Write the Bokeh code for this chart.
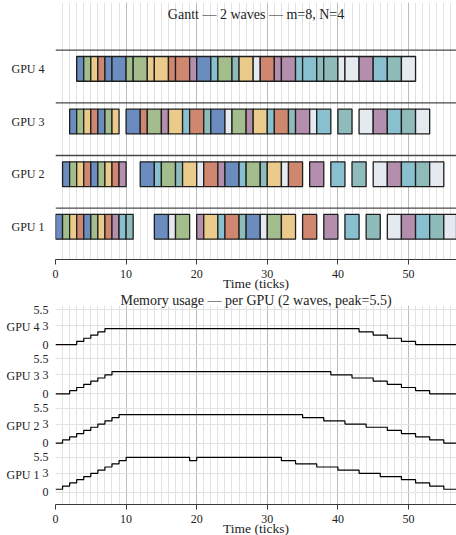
from bokeh.plotting import figure
from bokeh.layouts import column
from bokeh.models import (FixedTicker, SingleIntervalTicker, Label, Span,
                          ColumnDataSource, Range1d, LinearAxis)
from bokeh.embed import file_html
from bokeh.resources import INLINE

FONT = "Liberation Serif"

# ---------------- data ----------------
mb_colors = ["#6a8cbf", "#a3be8c", "#ebcb8b", "#d08770",
             "#b48ead", "#88c0d0", "#8fbcbb", "#e5e9f0"]
gpu_names = ["GPU 1", "GPU 2", "GPU 3", "GPU 4"]

# Gantt blocks: start tick, duration (ticks), micro-batch index
gpu1_start = [0, 1, 2, 3, 4, 5, 6, 7, 8, 9, 10, 14, 16, 17, 20, 21, 23, 24, 26, 27, 29, 30,
              32, 35, 38, 41, 44, 47, 49, 51, 53, 55]
gpu1_dur = [1, 1, 1, 1, 1, 1, 1, 1, 1, 1, 1, 2, 1, 2, 1, 2, 1, 2, 1, 2, 1, 2,
            2, 2, 2, 2, 2, 2, 2, 2, 2, 2]
gpu1_mb = [0, 1, 2, 3, 0, 1, 2, 3, 4, 5, 6, 0, 7, 1, 4, 2, 5, 3, 6, 0, 7, 1,
           2, 3, 4, 5, 6, 7, 4, 5, 6, 7]

gpu2_start = [1, 2, 3, 4, 5, 6, 7, 8, 9, 12, 14, 15, 17, 18, 20, 21, 23, 24, 26, 27, 29, 30,
              32, 33, 36, 39, 42, 45, 47, 49, 51, 53]
gpu2_dur = [1, 1, 1, 1, 1, 1, 1, 1, 1, 2, 1, 2, 1, 2, 1, 2, 1, 2, 1, 2, 1, 2,
            1, 2, 2, 2, 2, 2, 2, 2, 2, 2]
gpu2_mb = [0, 1, 2, 3, 0, 1, 2, 3, 4, 0, 5, 1, 6, 2, 7, 3, 4, 0, 5, 1, 6, 2,
           7, 3, 4, 5, 6, 7, 4, 5, 6, 7]

gpu3_start = [2, 3, 4, 5, 6, 7, 8, 10, 12, 13, 15, 16, 18, 19, 21, 22, 24, 25, 27, 28, 30, 31,
              33, 34, 36, 37, 40, 43, 45, 47, 49, 51]
gpu3_dur = [1, 1, 1, 1, 1, 1, 1, 2, 1, 2, 1, 2, 1, 2, 1, 2, 1, 2, 1, 2, 1, 2,
            1, 2, 1, 2, 2, 2, 2, 2, 2, 2]
gpu3_mb = [0, 1, 2, 3, 0, 1, 2, 0, 3, 1, 4, 2, 5, 3, 6, 0, 7, 1, 4, 2, 5, 3,
           6, 4, 7, 5, 6, 7, 4, 5, 6, 7]

gpu4_start = [3, 4, 5, 6, 7, 8, 10, 11, 13, 14, 16, 17, 19, 20, 22, 23, 25, 26, 28, 29, 31, 32,
              34, 35, 37, 38, 40, 41, 43, 45, 47, 49]
gpu4_dur = [1, 1, 1, 1, 1, 2, 1, 2, 1, 2, 1, 2, 1, 2, 1, 2, 1, 2, 1, 2, 1, 2,
            1, 2, 1, 2, 1, 2, 2, 2, 2, 2]
gpu4_mb = [0, 1, 2, 3, 0, 0, 1, 1, 2, 2, 3, 3, 4, 0, 5, 1, 6, 2, 7, 3, 4, 4,
           5, 5, 6, 6, 7, 7, 4, 5, 6, 7]

# Memory usage step functions (time of change, value after change)
mem1_t = [0, 1, 2, 3, 4, 5, 6, 7, 8, 9, 10, 19, 20, 32, 34, 37, 40, 43, 46, 49, 51, 53, 55, 57]
mem1_v = [0.5, 1, 1.5, 2, 2.5, 3, 3.5, 4, 4.5, 5, 5.5, 5, 5.5, 5, 4.5, 4, 3.5, 3, 2.5, 2, 1.5, 1, 0.5, 0]
mem2_t = [0, 1, 2, 3, 4, 5, 6, 7, 8, 9, 35, 38, 41, 44, 47, 49, 51, 53, 55, 57]
mem2_v = [0, 0.5, 1, 1.5, 2, 2.5, 3, 3.5, 4, 4.5, 4, 3.5, 3, 2.5, 2, 1.5, 1, 0.5, 0, 0]
mem3_t = [0, 2, 3, 4, 5, 6, 7, 8, 39, 42, 45, 47, 49, 51, 53, 57]
mem3_v = [0, 0.5, 1, 1.5, 2, 2.5, 3, 3.5, 3, 2.5, 2, 1.5, 1, 0.5, 0, 0]
mem4_t = [0, 3, 4, 5, 6, 7, 43, 45, 47, 49, 51, 57]
mem4_v = [0, 0.5, 1, 1.5, 2, 2.5, 2, 1.5, 1, 0.5, 0, 0]

mem_ticks = [0, 3, 5.5]
mem_tick_labels = ["0", "3", "5.5"]

gantt_title = "Gantt \u2014 2 waves \u2014 m=8, N=4"
mem_title = "Memory usage \u2014 per GPU (2 waves, peak=5.5)"
x_label = "Time (ticks)"

# ---------------- helpers ----------------
X_END = 56.8
MINOR = "#e2e2e2"
MAJOR = "#bcbcbc"
AXIS = "#3a3a3a"
TXT = "#222222"


def style_x(p):
    p.xaxis.ticker = SingleIntervalTicker(interval=10, num_minor_ticks=10)
    p.xgrid.ticker = SingleIntervalTicker(interval=10, num_minor_ticks=10)
    p.xgrid.grid_line_color = MAJOR
    p.xgrid.minor_grid_line_color = MINOR
    p.xaxis.axis_line_color = AXIS
    p.xaxis.axis_line_width = 1.2
    p.xaxis.major_tick_line_color = AXIS
    p.xaxis.major_tick_out = 5
    p.xaxis.major_tick_in = 0
    p.xaxis.minor_tick_line_color = None
    p.xaxis.minor_tick_out = 0
    p.xaxis.minor_tick_in = 0
    p.xaxis.major_label_text_font = FONT
    p.xaxis.major_label_text_font_size = "12px"
    p.xaxis.major_label_text_color = TXT
    p.xaxis.major_label_standoff = 5
    p.xaxis.axis_label = x_label
    p.xaxis.axis_label_text_font = FONT
    p.xaxis.axis_label_text_font_size = "13.5px"
    p.xaxis.axis_label_text_font_style = "normal"
    p.xaxis.axis_label_text_color = TXT
    p.xaxis.axis_label_standoff = -5
    p.outline_line_color = None


def style_y(ax, standoff):
    ax.axis_line_color = None
    ax.major_tick_line_color = None
    ax.minor_tick_line_color = None
    ax.major_tick_out = 0
    ax.major_tick_in = 0
    ax.minor_tick_out = 0
    ax.minor_tick_in = 0
    ax.major_label_standoff = standoff
    ax.major_label_text_font = FONT
    ax.major_label_text_font_size = "12px"
    ax.major_label_text_color = TXT


# ---------------- Gantt ----------------
gantt = figure(frame_width=401, frame_height=257,
               x_range=Range1d(0, X_END), y_range=Range1d(-0.62, 4.26),
               output_backend="svg", toolbar_location=None,
               min_border_left=55, min_border_right=0, min_border_top=2,
               min_border_bottom=0)
style_x(gantt)
gantt.ygrid.grid_line_color = None
gantt.yaxis.ticker = FixedTicker(ticks=[0, 1, 2, 3])
gantt.yaxis.major_label_overrides = {i: gpu_names[i] for i in range(4)}
style_y(gantt.yaxis[0], 11)

for i in range(4):
    gantt.add_layout(Span(location=i + 0.355, dimension="width",
                          line_color="#4a4a4a", line_width=1.3))

ys, lefts, rights, cols = [], [], [], []
for gi, (st, du, mb) in enumerate([(gpu1_start, gpu1_dur, gpu1_mb),
                                   (gpu2_start, gpu2_dur, gpu2_mb),
                                   (gpu3_start, gpu3_dur, gpu3_mb),
                                   (gpu4_start, gpu4_dur, gpu4_mb)]):
    for s, d, m in zip(st, du, mb):
        ys.append(gi)
        lefts.append(s)
        rights.append(s + d)
        cols.append(mb_colors[m])
src = ColumnDataSource(dict(y=ys, left=lefts, right=rights, color=cols))
gantt.hbar(y="y", left="left", right="right", height=0.47, source=src,
           fill_color="color", line_color="#1e1e1e", line_width=1.3)

gantt.add_layout(Label(x=X_END / 2, y=4.03, text=gantt_title, text_align="center",
                       text_baseline="middle", text_font=FONT,
                       text_font_size="14px", text_color=TXT))

# ---------------- Memory ----------------
OFF = 7.75
mem = figure(frame_width=401, frame_height=199,
             x_range=Range1d(0, X_END), y_range=Range1d(-1.9, 29.4),
             output_backend="svg", toolbar_location=None,
             min_border_left=55, min_border_right=0, min_border_top=0,
             min_border_bottom=0, title=mem_title)
style_x(mem)
mem.title.align = "center"
mem.title.text_font = FONT
mem.title.text_font_size = "14px"
mem.title.text_font_style = "normal"
mem.title.text_color = TXT
mem.title.standoff = -5

ticks = []
overrides = {}
for k in range(4):
    for t, lab in zip(mem_ticks, mem_tick_labels):
        ticks.append(k * OFF + t)
        overrides[k * OFF + t] = lab
mem.yaxis.ticker = FixedTicker(ticks=ticks)
mem.ygrid.ticker = FixedTicker(ticks=ticks)
mem.ygrid.grid_line_color = MINOR
mem.yaxis.major_label_overrides = overrides
style_y(mem.yaxis[0], 7)

# second left axis carrying the GPU names
gpu_ticks = [k * OFF + 2.75 for k in range(4)]
gpu_axis = LinearAxis(ticker=FixedTicker(ticks=gpu_ticks),
                      major_label_overrides={gpu_ticks[k]: gpu_names[k] for k in range(4)})
style_y(gpu_axis, -9)
mem.add_layout(gpu_axis, "left")

for k, (mt, mv) in enumerate([(mem1_t, mem1_v), (mem2_t, mem2_v),
                              (mem3_t, mem3_v), (mem4_t, mem4_v)]):
    mem.step(x=mt, y=[v + k * OFF for v in mv], mode="after",
             line_color="black", line_width=1.2)

layout = column(gantt, mem, spacing=0)
open("out.html", "w").write(file_html(layout, INLINE))
